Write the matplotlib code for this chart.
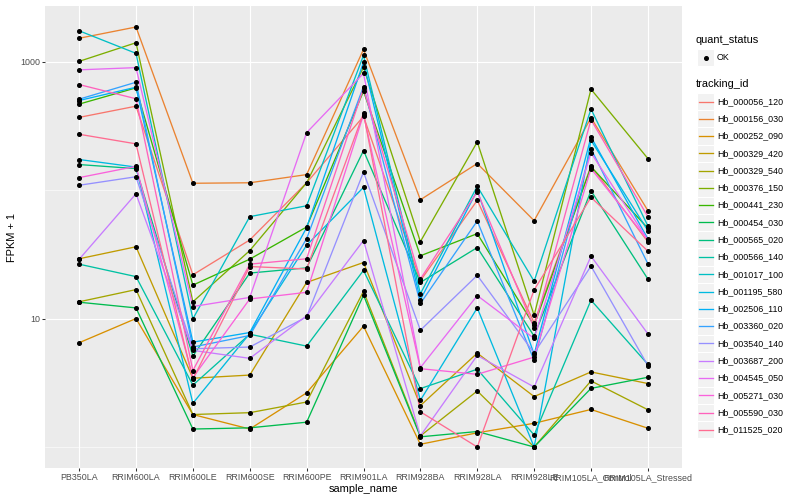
import matplotlib.pyplot as plt
import numpy as np
from matplotlib.patches import Rectangle
from matplotlib.lines import Line2D
from matplotlib.ticker import FixedLocator, NullFormatter

plt.rcParams['font.family'] = ['Liberation Sans', 'DejaVu Sans']

samples = ['PB350LA', 'RRIM600LA', 'RRIM600LE', 'RRIM600SE', 'RRIM600PE', 'RRIM901LA',
           'RRIM928BA', 'RRIM928LA', 'RRIM928LE', 'RRIM105LA_Control', 'RRIM105LA_Stressed']

tracking_ids = ['Hb_000056_120', 'Hb_000156_030', 'Hb_000252_090', 'Hb_000329_420',
                'Hb_000329_540', 'Hb_000376_150', 'Hb_000441_230', 'Hb_000454_030',
                'Hb_000565_020', 'Hb_000566_140', 'Hb_001017_100', 'Hb_001195_580',
                'Hb_002506_110', 'Hb_003360_020', 'Hb_003540_140', 'Hb_003687_200',
                'Hb_004545_050', 'Hb_005271_030', 'Hb_005590_030', 'Hb_011525_020']

# FPKM + 1, one value per sample
hb_000056_120 = [368, 450, 21.9, 40.9, 114, 375, 19.7, 83.2, 9.27, 154, 39.5]
hb_000156_030 = [1520, 1860, 113, 114, 132, 1245, 84.1, 161, 57.8, 366, 69.2]
hb_000252_090 = [6.48, 10.0, 1.79, 1.38, 2.64, 8.71, 1.05, 1.29, 1.53, 1.96, 1.40]
hb_000329_420 = [29.2, 36.2, 3.43, 3.63, 19.1, 27.3, 2.10, 5.38, 2.47, 3.84, 3.12]
hb_000329_540 = [13.5, 16.8, 1.79, 1.85, 2.24, 16.3, 1.22, 2.73, 1.0, 3.27, 1.95]
hb_000376_150 = [1005, 1403, 13.5, 33.8, 114, 903, 39.7, 237, 10.6, 610, 176]
hb_000441_230 = [467, 625, 18.2, 29.0, 51.6, 589, 30.8, 45.8, 8.83, 152, 50.5]
hb_000454_030 = [13.4, 12.1, 1.38, 1.41, 1.56, 15.2, 1.20, 1.32, 1.0, 2.86, 3.49]
hb_000565_020 = [158, 147, 5.1, 22.6, 24.8, 203, 19.1, 35.7, 7.29, 98.8, 20.3]
hb_000566_140 = [26.5, 21.2, 3.03, 7.55, 6.1, 23.7, 2.85, 4.03, 1.24, 13.9, 4.4]
hb_001017_100 = [1738, 1160, 9.95, 62.1, 75.5, 1119, 15.6, 107, 19.5, 427, 52.6]
hb_001195_580 = [173, 151, 2.19, 7.65, 37.2, 105, 2.31, 12.1, 1.0, 244, 48.3]
hb_002506_110 = [498, 632, 6.55, 7.78, 51.0, 988, 14.0, 99.5, 5.26, 259, 41.7]
hb_003360_020 = [510, 691, 6.0, 7.38, 41.9, 640, 13.1, 57.5, 4.72, 210, 26.7]
hb_003540_140 = [109, 127, 5.82, 6.0, 10.3, 138, 8.11, 21.7, 5.38, 25.6, 4.3]
hb_003687_200 = [28.9, 93.6, 5.65, 4.9, 10.5, 40.5, 1.22, 5.16, 2.93, 30.6, 7.6]
hb_004545_050 = [863, 898, 12.4, 14.6, 280, 811, 4.15, 15.1, 7.0, 195, 40.9]
hb_005271_030 = [125, 153, 3.47, 14.2, 16.0, 386, 4.07, 3.68, 5.01, 147, 40.7]
hb_005590_030 = [663, 514, 3.94, 26.5, 29.2, 621, 20.3, 97, 8.47, 353, 62.1]
hb_011525_020 = [272, 229, 3.37, 25.4, 24.3, 397, 1.88, 1.0, 16.7, 87.8, 33.5]

series = [hb_000056_120, hb_000156_030, hb_000252_090, hb_000329_420, hb_000329_540,
          hb_000376_150, hb_000441_230, hb_000454_030, hb_000565_020, hb_000566_140,
          hb_001017_100, hb_001195_580, hb_002506_110, hb_003360_020, hb_003540_140,
          hb_003687_200, hb_004545_050, hb_005271_030, hb_005590_030, hb_011525_020]

# ggplot hue palette, 20 levels
colors = ['#F8766D', '#EA8331', '#D89000', '#C09B00', '#A3A500', '#7CAE00', '#39B600',
          '#00BB4E', '#00BF7D', '#00C1A3', '#00BFC4', '#00BAE0', '#00B0F6', '#35A2FF',
          '#9590FF', '#C77CFF', '#E76BF3', '#FA62DB', '#FF62BC', '#FF6C91']

W, H = 800, 500
fig = plt.figure(figsize=(8, 5), dpi=100)
fig.patch.set_facecolor('white')

def fx(px):
    return px / W

def fy(py):
    return 1 - py / H

# panel
ax = fig.add_axes([fx(45), fy(468), (682 - 45) / W, (468 - 6) / H])
ax.set_facecolor('#EBEBEB')

x = np.arange(len(samples))
for vals, c in zip(series, colors):
    ax.plot(x, vals, color=c, lw=0.95, zorder=2, solid_capstyle='butt')
for vals in series:
    ax.plot(x, vals, ls='none', marker='o', ms=2.6, color='black', zorder=3)

ax.set_yscale('log')
allv = np.log10(np.concatenate([np.array(s, dtype=float) for s in series]))
lo, hi = allv.min(), allv.max()
pad = (hi - lo) * 0.05
ax.set_ylim(10 ** (lo - pad), 10 ** (hi + pad))
ax.set_xlim(-0.6, len(samples) - 0.4)

ax.yaxis.set_major_locator(FixedLocator([10, 1000]))
ax.set_yticklabels(['10', '1000'])
ax.yaxis.set_minor_locator(FixedLocator([1, 100]))
ax.yaxis.set_minor_formatter(NullFormatter())
ax.set_xticks(x)
ax.set_xticklabels(samples)

ax.grid(which='major', color='white', lw=0.8, zorder=0)
ax.grid(which='minor', axis='y', color='white', lw=0.4, zorder=0)
ax.set_axisbelow(True)
for sp in ax.spines.values():
    sp.set_visible(False)

ax.tick_params(which='major', length=2.0, width=0.75, color='#333333',
               labelsize=6.4, labelcolor='#4D4D4D', pad=1.6)
ax.tick_params(which='minor', length=0)

ax.set_xlabel('sample_name', fontsize=7.9, labelpad=1.5)
ax.set_ylabel('FPKM + 1', fontsize=7.9, labelpad=2.5)

# legend: quant_status
key = 17.28
fig.text(fx(696), fy(40), 'quant_status', fontsize=7.9, va='center', ha='left')
ky = 57.6
fig.patches.append(Rectangle((fx(697), fy(ky + key / 2)), key / W, key / H,
                             transform=fig.transFigure, facecolor='#F2F2F2',
                             edgecolor='white', lw=0.8))
fig.lines.append(Line2D([fx(697 + key / 2)], [fy(ky)], transform=fig.transFigure,
                        marker='o', ms=2.6, color='black', ls='none'))
fig.text(fx(717), fy(ky), 'OK', fontsize=6.4, va='center', ha='left')

# legend: tracking_id
fig.text(fx(696), fy(84), 'tracking_id', fontsize=7.9, va='center', ha='left')
for i, (tid, c) in enumerate(zip(tracking_ids, colors)):
    cy = 101.5 + key * i
    fig.patches.append(Rectangle((fx(697), fy(cy + key / 2)), key / W, key / H,
                                 transform=fig.transFigure, facecolor='#F2F2F2',
                                 edgecolor='white', lw=0.8))
    fig.lines.append(Line2D([fx(698.7), fx(697 + key - 1.7)], [fy(cy), fy(cy)],
                            transform=fig.transFigure, color=c, lw=0.95))
    fig.text(fx(717), fy(cy), tid, fontsize=6.4, va='center', ha='left')

fig.savefig('out.png', dpi=100)
